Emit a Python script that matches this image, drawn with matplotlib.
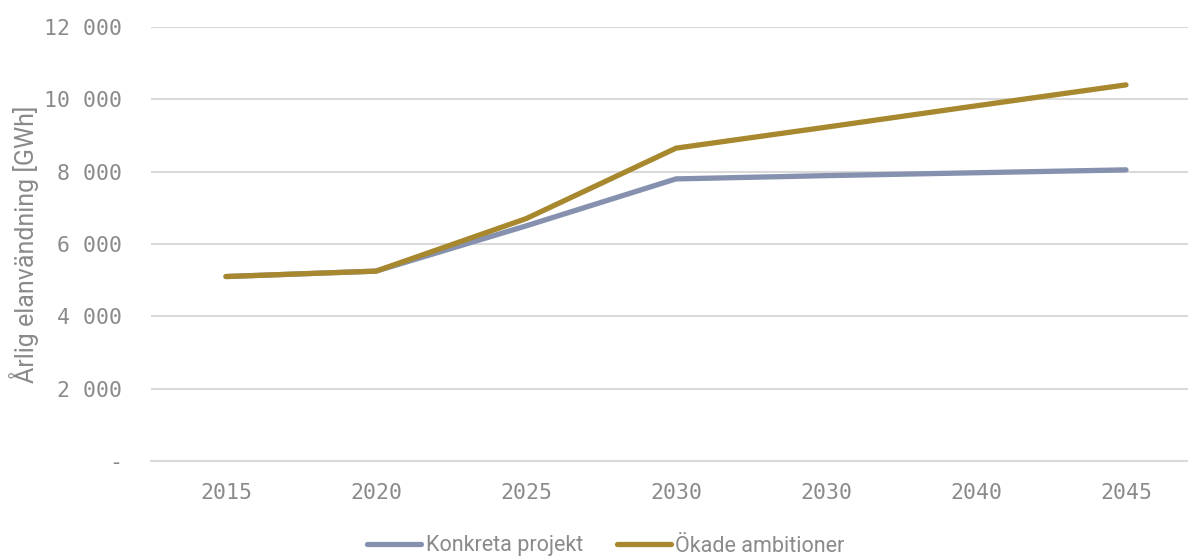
import numpy as np
import matplotlib.pyplot as plt
from matplotlib.ticker import FuncFormatter

# yearly electricity use per scenario, GWh
years = ['2015', '2020', '2025', '2030', '2030', '2040', '2045']
konkreta = [5100, 5250, 6500, 7800, 7890, 7970, 8050]
okade = [5100, 5250, 6700, 8650, 9230, 9820, 10400]
series_names = ['Konkreta projekt', 'Ökade ambitioner']
series_colors = ['#8591ae', '#a8882f']

grey = '#8a8a8c'
num_font = 'DejaVu Sans Mono'
txt_font = 'Roboto'

fig = plt.figure(figsize=(11.88, 5.56), dpi=100)
ax = fig.add_axes([151 / 1188, 1 - 461 / 556, 1050 / 1188, 434 / 556])

x = np.arange(len(years))
for vals, name, col in zip([konkreta, okade], series_names, series_colors):
    ax.plot(x, vals, color=col, lw=3.8, solid_capstyle='round', label=name, zorder=3)

ax.set_xlim(-0.5, len(years) - 0.5)
ax.set_ylim(0, 12000)
ax.set_yticks(np.arange(0, 12001, 2000))


def fmt(v, p):
    if v == 0:
        return '-'
    return f'{int(v):,}'.replace(',', '\u2009')


ax.yaxis.set_major_formatter(FuncFormatter(fmt))
ax.set_xticks(x)
ax.set_xticklabels(years)

ax.grid(axis='y', color='#d9d9d9', lw=1.5, zorder=0)
for s in ['top', 'right', 'left']:
    ax.spines[s].set_visible(False)
ax.spines['bottom'].set_color('#d9d9d9')
ax.spines['bottom'].set_linewidth(1.5)
ax.tick_params(length=0, colors=grey)
ax.tick_params(axis='y', pad=21)
ax.tick_params(axis='x', pad=16)
for lab in ax.get_xticklabels() + ax.get_yticklabels():
    lab.set_fontfamily([num_font, 'DejaVu Sans'])
    lab.set_fontsize(15.5)

ax.set_ylabel('Årlig elanvändning [GWh]', fontsize=18, color=grey,
              fontfamily=txt_font)
ax.yaxis.set_label_coords(-0.107, 0.5)

leg = fig.legend(loc='center', bbox_to_anchor=(606 / 1188, 10 / 556), ncol=2,
                 frameon=False, handlelength=2.5, handletextpad=0.2,
                 columnspacing=1.6, prop={'family': txt_font, 'size': 15.5})
for t in leg.get_texts():
    t.set_color(grey)

fig.savefig('out.png', dpi=100)
